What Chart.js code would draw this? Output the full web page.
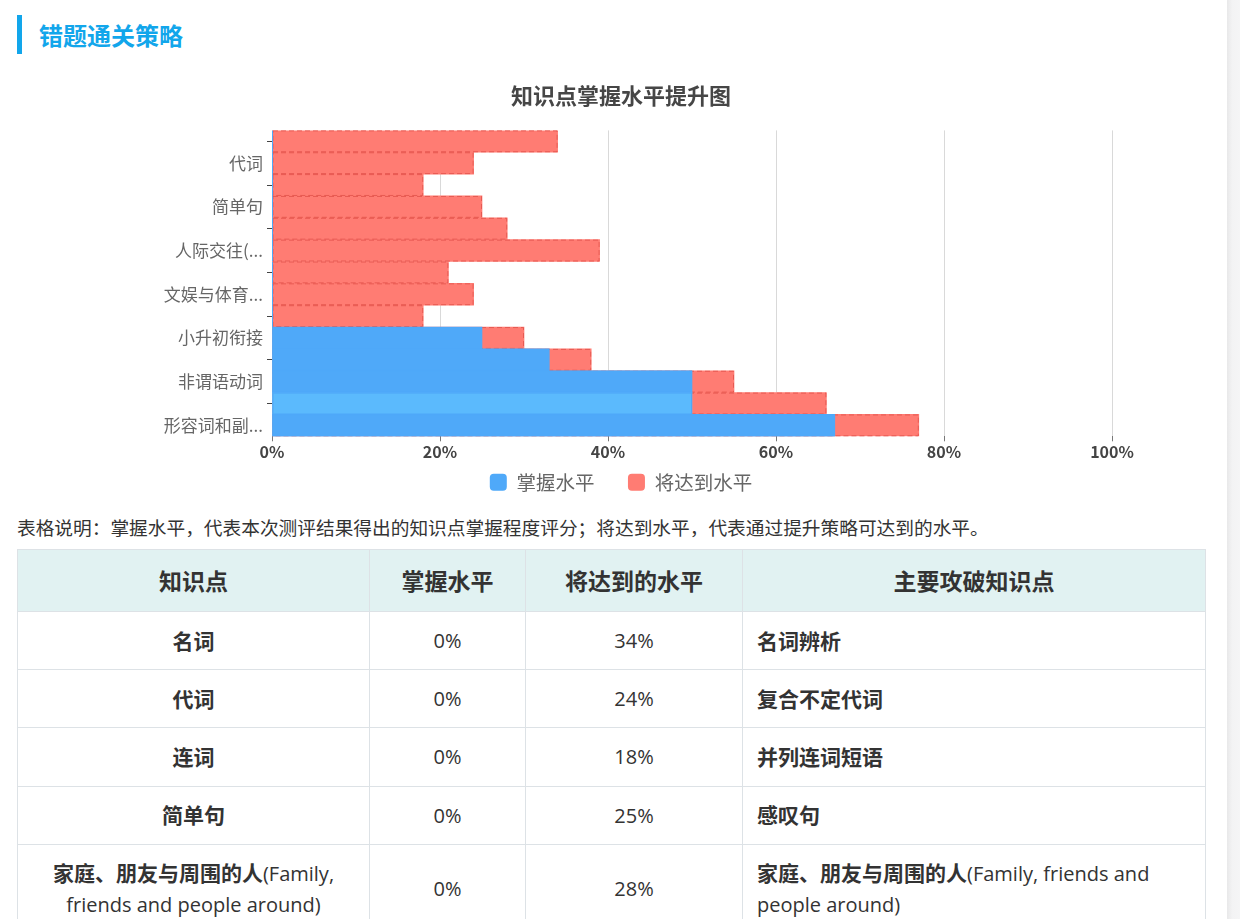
<!DOCTYPE html>
<html><head><meta charset="utf-8">
<script src="https://cdn.jsdelivr.net/npm/chart.js@4.4.1/dist/chart.umd.min.js"></script>
<style>
html,body{margin:0;padding:0;background:#fff;overflow:hidden;width:1240px;height:919px;}
body{font-family:"Open Sans","Noto Sans CJK SC",sans-serif;color:#333;position:relative;}
.hdr{position:absolute;left:17px;top:15px;height:39px;border-left:5px solid #12a6eb;}
.hdr span{position:absolute;left:17px;top:0;line-height:40px;font-size:24px;font-weight:bold;color:#12a6eb;white-space:nowrap;font-family:"Noto Sans CJK SC",sans-serif;}
#wrap{position:absolute;left:17px;top:70px;width:1208px;height:432px;}
.desc{position:absolute;left:17px;top:514px;font-size:18.7px;line-height:26px;white-space:nowrap;font-family:"Noto Sans CJK SC",sans-serif;color:#333;}
table{position:absolute;left:17px;top:549px;width:1188px;border-collapse:collapse;table-layout:fixed;}
th,td{border:1px solid #dde2e6;font-size:20px;line-height:31px;color:#333;}
th{background:#e1f2f2;font-weight:bold;font-size:23px;padding:15px 14px;text-align:center;font-family:"Noto Sans CJK SC",sans-serif;}
td{padding:12.6px 14px;text-align:center;}
td.l{text-align:left;}
td b{font-family:"Noto Sans CJK SC",sans-serif;font-weight:bold;font-size:21px;}
.sb{position:absolute;left:1227px;top:0;width:13px;height:919px;background:linear-gradient(to right,#e8e8e9,#f3f3f4 40%,#f5f5f6);}
</style>
</head>
<body>
<div class="hdr"><span>错题通关策略</span></div>
<div id="wrap"><canvas id="c"></canvas></div>
<div class="desc">表格说明：掌握水平，代表本次测评结果得出的知识点掌握程度评分；将达到水平，代表通过提升策略可达到的水平。</div>
<table id="tbl">
<colgroup><col style="width:352px"><col style="width:156px"><col style="width:217px"><col style="width:463px"></colgroup>
<thead><tr><th>知识点</th><th>掌握水平</th><th>将达到的水平</th><th>主要攻破知识点</th></tr></thead>
<tbody></tbody>
</table>
<div class="sb"></div>
<script>
// ---- data ----
const categories = ['名词','代词','连词','简单句','家庭、朋友与周围的人(Family, friends and people around)','人际交往(Interpersonal communication)','学校生活(School life)','文娱与体育(Recreation and sports)','个人情况(Personal background)','小升初衔接','动词时态','非谓语动词','介词','形容词和副词'];
const mastered = [0,0,0,0,0,0,0,0,0,25,33,50,50,67];
const target   = [34,24,18,25,28,39,21,24,18,30,38,55,66,77];
const seriesNames = ['掌握水平','将达到水平'];
const focusPoints = ['名词辨析','复合不定代词','并列连词短语','感叹句','家庭、朋友与周围的人(Family, friends and people around)'];
const chartTitle = '知识点掌握水平提升图';

// ---- table ----
function richText(s){
  const i = s.indexOf('(');
  if (i < 0) return '<b>' + s + '</b>';
  return '<b>' + s.slice(0,i) + '</b>' + s.slice(i);
}
const tb = document.querySelector('#tbl tbody');
focusPoints.forEach((fp, i) => {
  const tr = document.createElement('tr');
  tr.innerHTML = '<td>' + richText(categories[i]) + '</td><td>' + mastered[i] + '%</td><td>' + target[i] + '%</td><td class="l">' + richText(fp) + '</td>';
  tb.appendChild(tr);
});

// ---- chart ----
Chart.defaults.font.family = '"Noto Sans CJK SC","Noto Sans",sans-serif';
const BLUE = '#4fa9f9', BLUE_HI = '#5bbafd', RED = '#ff7c73';
const trunc = s => s.length > 5 ? s.slice(0,5) + '...' : s;

const barBorders = {
  id: 'barBorders',
  afterDatasetDraw(chart, args, opts) {
    const st = opts.styles[args.index];
    if (!st) return;
    const ctx = chart.ctx;
    ctx.save();
    ctx.lineWidth = 1;
    ctx.strokeStyle = st.color;
    ctx.setLineDash(st.dash);
    args.meta.data.forEach(el => {
      const p = el.getProps(['x','y','base','height'], true);
      const l = Math.min(p.x, p.base), w = Math.abs(p.x - p.base);
      ctx.strokeRect(l + 0.5, p.y - p.height / 2 + 0.5, Math.max(w - 1, 0), p.height - 1);
    });
    ctx.restore();
  }
};

new Chart(document.getElementById('c'), {
  type: 'bar',
  data: {
    labels: categories,
    datasets: [
      { label: seriesNames[0], data: mastered,
        backgroundColor: c => (c.dataIndex === 12 ? BLUE_HI : BLUE),
        borderWidth: 0, barPercentage: 1, categoryPercentage: 1 },
      { label: seriesNames[1], data: target, backgroundColor: RED,
        borderWidth: 0, barPercentage: 1, categoryPercentage: 1 }
    ]
  },
  plugins: [barBorders],
  options: {
    indexAxis: 'y',
    responsive: true,
    maintainAspectRatio: false,
    animation: false,
    layout: { padding: 0 },
    scales: {
      x: {
        stacked: false, min: 0, max: 100,
        ticks: { stepSize: 20, callback: v => v + '%', color: '#444', padding: 1,
                 font: { size: 16, weight: 'bold' } },
        grid: { color: '#d9d9d9', tickColor: '#777', tickLength: 5 },
        border: { display: false }
      },
      y: {
        stacked: true,
        afterFit(s) { s.width = 255; },
        ticks: { autoSkip: false, padding: 4, color: '#666', font: { size: 17 },
                 callback: (v, i) => (i % 2 === 1 ? trunc(categories[i]) : '') },
        grid: { offset: false, drawOnChartArea: false, tickLength: 5,
                color: c => (c.index % 2 === 0 ? '#444' : 'rgba(0,0,0,0)'),
                tickColor: c => (c.index % 2 === 0 ? '#444' : 'rgba(0,0,0,0)') },
        border: { display: false }
      },
      yR: {
        type: 'category', position: 'right', display: true,
        afterFit(s) { s.width = 113; },
        ticks: { display: false }, grid: { display: false }, border: { display: false }
      }
    },
    plugins: {
      title: { display: true, text: chartTitle, color: '#464646',
               font: { size: 22, weight: 'bold' }, padding: { top: 12, bottom: 22 } },
      legend: { position: 'bottom',
                labels: { boxWidth: 17, boxHeight: 17, useBorderRadius: true, borderRadius: 4,
                          padding: 10, color: '#666', font: { size: 19.5 },
                          generateLabels(chart) {
                            const items = Chart.defaults.plugins.legend.labels.generateLabels(chart);
                            items.forEach((it, i) => { if (i < items.length - 1) it.text += '\u3000\u2009'; });
                            return items;
                          } } },
      tooltip: { enabled: false },
      barBorders: { styles: [ { color: BLUE, dash: [] }, { color: 'rgba(225,80,74,0.8)', dash: [5, 3] } ] }
    }
  }
});
</script>
</body></html>
